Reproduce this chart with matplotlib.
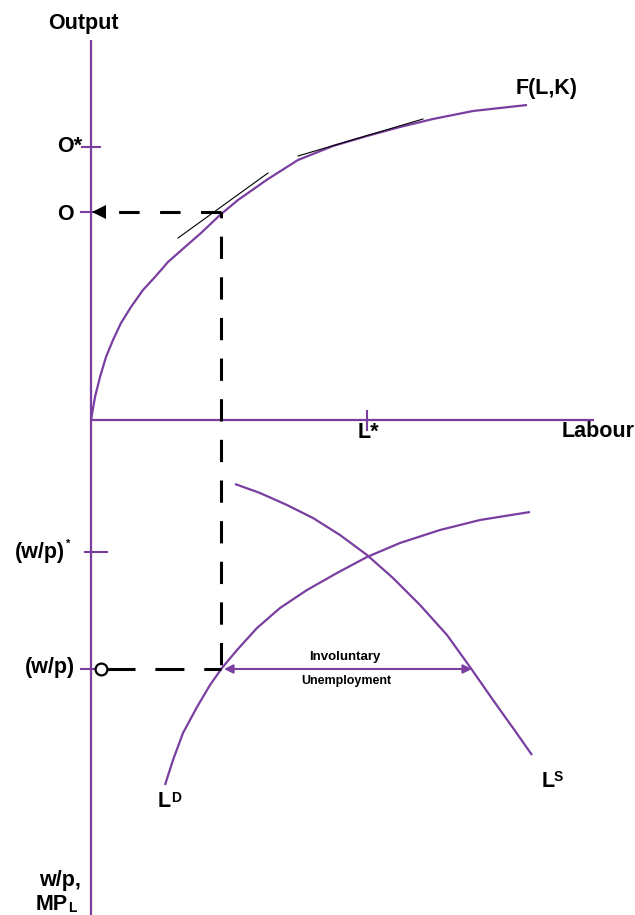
import matplotlib
matplotlib.use("Agg")
from matplotlib import pyplot as plt

plt.rcParams['font.family'] = 'Liberation Sans'
plt.rcParams['font.weight'] = 'bold'

purple = '#7a3ea1'

# production function F(L,K): labour vs output (upper panel)
labour = [0, 4, 9, 15, 22, 30, 40, 52, 64, 77, 94, 110, 129, 147, 177, 207, 242, 276, 309, 342, 382, 436]
output = [0, 23, 43, 63, 80, 97, 113, 130, 143, 158, 173, 187, 205, 220, 241, 260, 274, 284, 293, 301, 309, 315]

# tangent lines to F (slope = MPL)
tan1_L = [87, 177]
tan1_O = [182, 247]
tan2_L = [207, 332]
tan2_O = [264, 301]

# labour market (lower panel), w/p measured downward from the labour axis
ld_L = [74, 82, 92, 106, 119, 131, 146, 166, 189, 216, 246, 276, 309, 349, 389, 439]
ld_wp = [365, 340, 313, 287, 265, 248, 230, 208, 188, 170, 153, 137, 123, 110, 100, 92]
ls_L = [144, 169, 196, 222, 249, 276, 302, 329, 356, 379, 402, 422, 441]
ls_wp = [64, 73, 85, 98, 115, 135, 158, 185, 215, 247, 280, 308, 335]

L0 = 130       # employment at the rigid real wage
O0 = 208       # output O
O_star = 273   # output O*
L_star = 276
wp_star = 132
wp0 = 249
L_gap_end = 381   # labour supplied at (w/p)

fig = plt.figure(figsize=(6.35, 9.15), dpi=100)
ax = fig.add_axes([0, 0, 1, 1])
ax.set_xlim(-91, 544)
ax.set_ylim(-495, 420)
ax.axis('off')

curve = dict(color=purple, lw=1.6, solid_joinstyle='round', solid_capstyle='butt')

# axes
ax.plot([0, 0], [380, -495], **curve)
ax.plot([0, 503], [0, 0], **curve)

# ticks
ax.plot([-9, 9], [O_star, O_star], color=purple, lw=1.5)
ax.plot([-10, 9], [O0, O0], color=purple, lw=1.5)
ax.plot([L_star, L_star], [-10, 9], color=purple, lw=1.5)
ax.plot([-6, 16], [-wp_star, -wp_star], color=purple, lw=1.5)
ax.plot([-10, 6], [-wp0, -wp0], color=purple, lw=1.5)

# production function and tangents
ax.plot(labour, output, **curve)
ax.plot(tan1_L, tan1_O, color='black', lw=0.8)
ax.plot(tan2_L, tan2_O, color='black', lw=0.8)

# labour demand / supply
ax.plot(ld_L, [-v for v in ld_wp], **curve)
ax.plot(ls_L, [-v for v in ls_wp], **curve)

# dashed guide lines
ax.plot([L0, 15], [O0, O0], color='black', lw=2.2, linestyle=(0, (6.7, 6.7)))
ax.plot([L0, L0], [O0, -wp0], color='black', lw=2.2, linestyle=(5.4, (7.3, 6.0)))
ax.plot([15, L0], [-wp0, -wp0], color='black', lw=2.2, linestyle=(0, (9.5, 6.5)))
ax.plot(8, O0, marker='<', markersize=10.5, color='black', markeredgewidth=0)
ax.plot(10, -wp0, marker='o', markersize=8.5, markerfacecolor='white',
        markeredgecolor='black', markeredgewidth=1.6)

# involuntary unemployment arrow
ax.annotate('', xy=(L0 + 3, -wp0), xytext=(L_gap_end, -wp0),
            arrowprops=dict(arrowstyle='<|-|>', color=purple, lw=1.5,
                            mutation_scale=13, shrinkA=0, shrinkB=0))
ax.text(254, -237, 'Involuntary', fontsize=9.5, ha='center', va='center')
ax.text(255, -261, 'Unemployment', fontsize=9, ha='center', va='center')

# labels
fs = 15.5
ax.text(-8, 391, 'Output', fontsize=fs, ha='center', va='baseline')
ax.text(456, 326, 'F(L,K)', fontsize=fs, ha='center', va='baseline')
ax.text(-9, 268, 'O*', fontsize=fs, ha='right', va='baseline')
ax.text(-17, 200, 'O', fontsize=fs, ha='right', va='baseline')
ax.text(267, -18, 'L*', fontsize=fs, ha='left', va='baseline')
ax.text(471, -17, 'Labour', fontsize=fs, ha='left', va='baseline')
ax.text(-26, -138, '(w/p)', fontsize=fs, ha='right', va='baseline')
ax.text(-25, -127, '*', fontsize=8, ha='left', va='baseline')
ax.text(-16, -253, '(w/p)', fontsize=fs, ha='right', va='baseline')
ax.text(67, -387, 'L', fontsize=fs, ha='left', va='baseline')
ax.text(80, -382, 'D', fontsize=10, ha='left', va='baseline')
ax.text(451, -367, 'L', fontsize=fs, ha='left', va='baseline')
ax.text(463, -361, 'S', fontsize=10, ha='left', va='baseline')
ax.text(-10, -466, 'w/p,', fontsize=fs, ha='right', va='baseline')
ax.text(-23, -490, 'MP', fontsize=fs, ha='right', va='baseline')
ax.text(-23, -492, 'L', fontsize=10, ha='left', va='baseline')

fig.savefig('out.png', dpi=100)
